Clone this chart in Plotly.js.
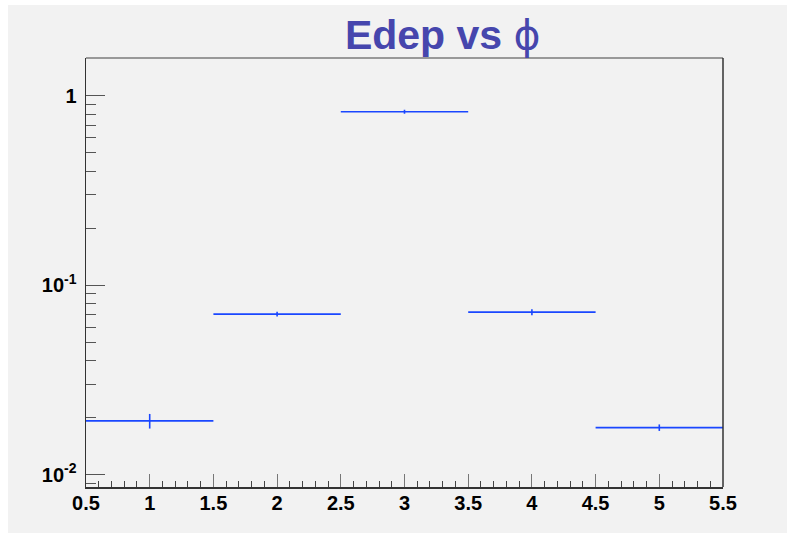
<!DOCTYPE html>
<html>
<head>
<meta charset="utf-8">
<script src="https://cdn.plot.ly/plotly-3.0.1.min.js"></script>
<style>
html,body{margin:0;padding:0;background:#ffffff;}
#chart{position:absolute;left:8px;top:5px;width:779px;height:528px;}
</style>
</head>
<body>
<div id="chart"></div>
<script>
// Data
const binCenters = [1, 2, 3, 4, 5];
const binHalfWidths = [0.5, 0.5, 0.5, 0.5, 0.5];
const edepValues = [0.0192, 0.0703, 0.823, 0.0720, 0.0177];
const edepErrors = [0.0017, 0.002, 0.02, 0.0026, 0.0007];
const yTickVals = [0.01, 0.1, 1];
const yTickText = ['10<sup>-2</sup>', '10<sup>-1</sup>', '1'];

const lineBlue = '#1a47ff';

const trace = {
  type: 'scatter',
  mode: 'markers',
  x: binCenters,
  y: edepValues,
  marker: {size: 1, color: lineBlue},
  error_x: {type: 'data', array: binHalfWidths, visible: true, width: 0, thickness: 1.6, color: lineBlue},
  error_y: {type: 'data', array: edepErrors, visible: true, width: 0, thickness: 1.6, color: lineBlue},
  hoverinfo: 'x+y',
  showlegend: false
};

const tickFont = {family: 'Liberation Sans, Arial, sans-serif', size: 20, color: '#000000', weight: 'bold'};

const layout = {
  width: 779,
  height: 528,
  paper_bgcolor: '#f2f2f2',
  plot_bgcolor: '#f2f2f2',
  margin: {l: 78, r: 64, t: 53, b: 46, pad: 0},
  title: {
    text: '<b>Edep vs </b><span style="font-family:DejaVu Sans">ϕ</span>',
    font: {family: 'Liberation Sans, Arial, sans-serif', size: 41, color: '#4646ad'},
    xref: 'paper', x: 0.56, xanchor: 'center',
    yref: 'container', y: 0.943, yanchor: 'middle'
  },
  xaxis: {
    range: [0.5, 5.5],
    dtick: 0.5, tick0: 0.5,
    ticks: 'inside', ticklen: 13, tickwidth: 1, tickcolor: '#777777',
    minor: {dtick: 0.1, ticks: 'inside', ticklen: 6, tickcolor: '#444444', tickwidth: 1},
    showgrid: false, zeroline: false,
    showline: true, linecolor: '#333333', linewidth: 1.5,
    tickfont: tickFont,
    ticklabelstandoff: -3
  },
  yaxis: {
    type: 'log',
    range: [-2.0655, 0.199],
    tickvals: yTickVals, ticktext: yTickText,
    ticks: 'inside', ticklen: 19, tickwidth: 1, tickcolor: '#555555',
    minor: {dtick: 'D1', ticks: 'inside', ticklen: 10, tickcolor: '#555555', tickwidth: 1},
    showgrid: false, zeroline: false,
    showline: true, linecolor: '#333333', linewidth: 1.5,
    tickfont: tickFont,
    ticklabelstandoff: 4
  },
  shapes: [
    {type: 'line', xref: 'paper', yref: 'paper', x0: 0, x1: 1, y0: 1, y1: 1, line: {color: '#999999', width: 2}},
    {type: 'line', xref: 'paper', yref: 'paper', x0: 1, x1: 1, y0: 0, y1: 1, line: {color: '#333333', width: 1.5}}
  ]
};

Plotly.newPlot('chart', [trace], layout, {displayModeBar: false, staticPlot: true});
</script>
</body>
</html>
